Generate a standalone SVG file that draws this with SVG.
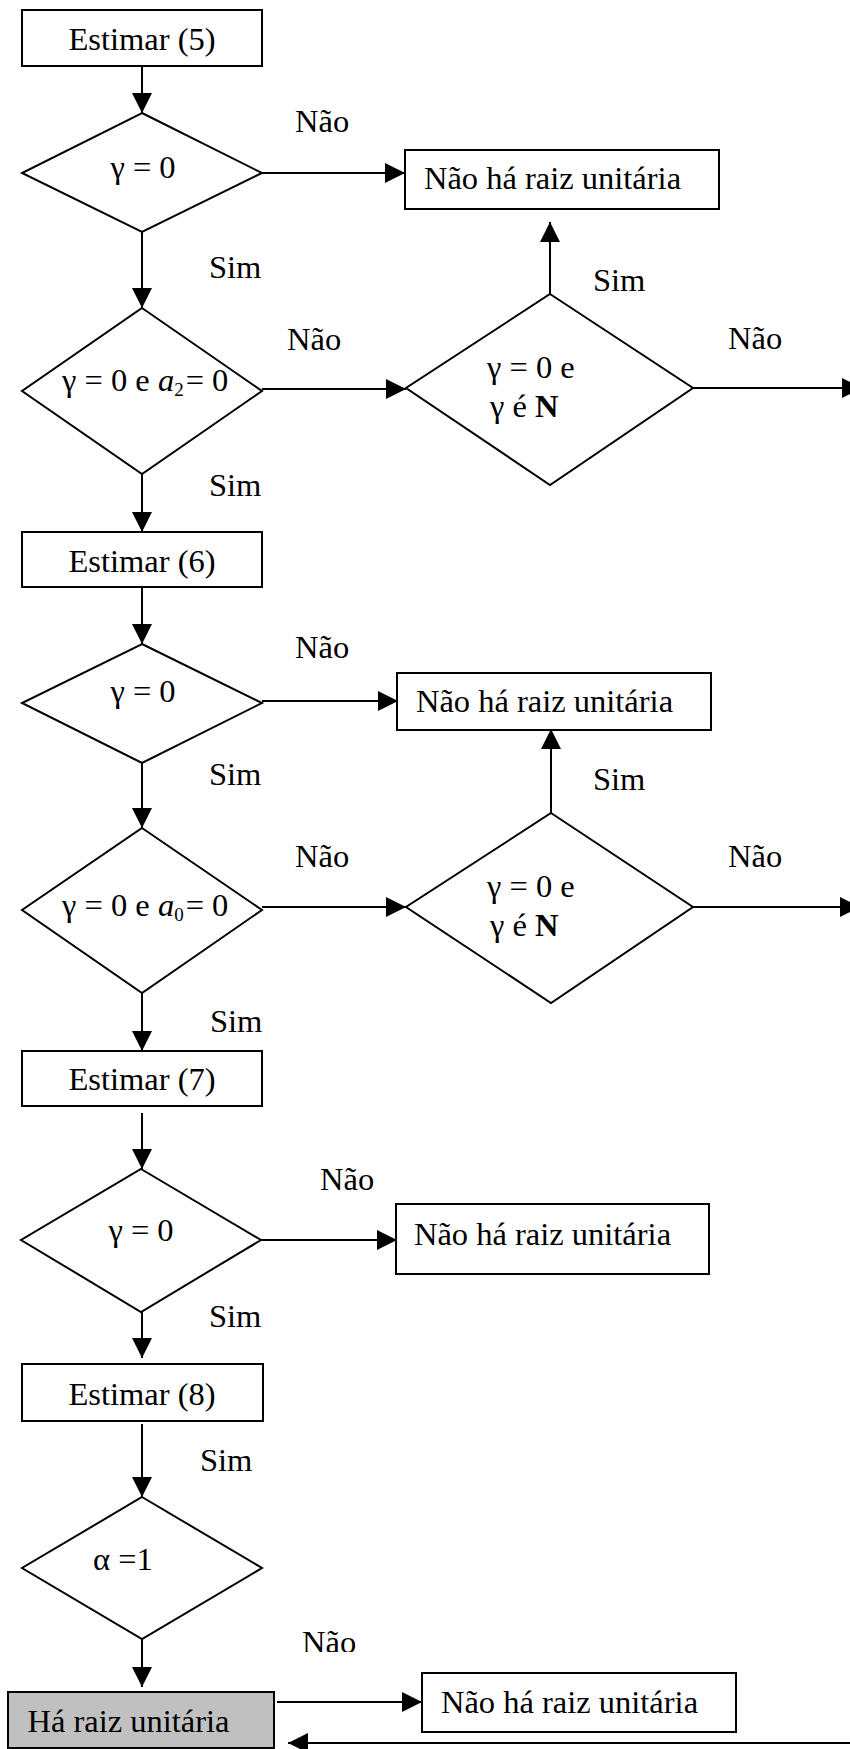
<svg xmlns="http://www.w3.org/2000/svg" width="850" height="1749" viewBox="0 0 850 1749">
<style>
text{font-family:"Liberation Serif","Times New Roman",serif;font-size:32.5px;fill:#000}
.box{fill:#fff;stroke:#000;stroke-width:2}
.gray{fill:#c0c0c0;stroke:#000;stroke-width:2}
.dia{fill:#fff;stroke:#000;stroke-width:2;stroke-linejoin:miter}
.c{fill:none;stroke:#000;stroke-width:2;marker-end:url(#ah)}
.mid{text-anchor:middle}
</style>
<defs>
<marker id="ah" markerUnits="userSpaceOnUse" markerWidth="20" markerHeight="20" refX="20" refY="10" orient="auto" viewBox="0 0 20 20">
<path d="M0,0 L20,10 L0,20 Z" fill="#000"/>
</marker>
<clipPath id="clipNao"><rect x="290" y="1600" width="80" height="52"/></clipPath>
</defs>
<rect width="850" height="1749" fill="#fff"/>

<g id="connectors">
<path class="c" d="M142,66 V113"/>
<path class="c" d="M262,173 H405"/>
<path class="c" d="M142,232 V308"/>
<path class="c" d="M262,389 H406"/>
<path class="c" d="M550,294 V222"/>
<path class="c" d="M693,388 H862"/>
<path class="c" d="M142,474 V532"/>
<path class="c" d="M142,587 V644"/>
<path class="c" d="M262,701 H398"/>
<path class="c" d="M142,763 V828"/>
<path class="c" d="M262,907 H406"/>
<path class="c" d="M551,823 V729"/>
<path class="c" d="M693,907 H860"/>
<path class="c" d="M142,987 V1051"/>
<path class="c" d="M142,1113 V1169"/>
<path class="c" d="M261,1240 H397"/>
<path class="c" d="M142,1312 V1358"/>
<path class="c" d="M142,1424 V1497"/>
<path class="c" d="M142,1639 V1687"/>
<path class="c" d="M277,1702 H422"/>
<path class="c" d="M852,1743 H288"/>
</g>

<g id="estimar5"><rect class="box" x="22" y="10" width="240" height="56"/><text class="mid" x="142" y="50">Estimar (5)</text></g>
<g id="d1"><polygon class="dia" points="142,113 262,173 142,232 22,173"/><text class="mid" x="143" y="178">γ = 0</text></g>
<g id="nao1"><rect class="box" x="405" y="150" width="314" height="59"/><text class="mid" x="552.5" y="189">Não há raiz unitária</text></g>
<g id="d2"><polygon class="dia" points="142,308 262,391 142,474 22,391"/><text x="62" y="391">γ = 0 e <tspan font-style="italic">a</tspan><tspan font-size="19" dy="5">2</tspan><tspan dy="-5" dx="2">= 0</tspan></text></g>
<g id="dr1"><polygon class="dia" points="550,294 693,388 550,485 406,388"/><text x="487" y="378">γ = 0 e</text><text x="490" y="417">γ  é <tspan font-weight="bold">N</tspan></text></g>
<g id="estimar6"><rect class="box" x="22" y="532" width="240" height="55"/><text class="mid" x="142" y="572">Estimar (6)</text></g>
<g id="d4"><polygon class="dia" points="142,644 262,703 142,763 22,703"/><text class="mid" x="143" y="702">γ = 0</text></g>
<g id="nao2"><rect class="box" x="397" y="673" width="314" height="57"/><text class="mid" x="544.5" y="712">Não há raiz unitária</text></g>
<g id="d5"><polygon class="dia" points="142,828 262,910 142,993 22,910"/><text x="62" y="916">γ = 0 e <tspan font-style="italic">a</tspan><tspan font-size="19" dy="5">0</tspan><tspan dy="-5" dx="2">= 0</tspan></text></g>
<g id="dr2"><polygon class="dia" points="551,813 693,907 551,1003 406,907"/><text x="487" y="897">γ = 0 e</text><text x="490" y="936">γ  é <tspan font-weight="bold">N</tspan></text></g>
<g id="estimar7"><rect class="box" x="22" y="1051" width="240" height="55"/><text class="mid" x="142" y="1090">Estimar (7)</text></g>
<g id="d7"><polygon class="dia" points="141,1169 261,1240 141,1312 21,1240"/><text class="mid" x="141" y="1241">γ = 0</text></g>
<g id="nao3"><rect class="box" x="396" y="1204" width="313" height="70"/><text class="mid" x="542.5" y="1245">Não há raiz unitária</text></g>
<g id="estimar8"><rect class="box" x="22" y="1364" width="241" height="57"/><text class="mid" x="142" y="1405">Estimar (8)</text></g>
<g id="d8"><polygon class="dia" points="142,1497 262,1568 142,1639 22,1568"/><text x="93" y="1570">α =1</text></g>
<g id="ha"><rect class="gray" x="8" y="1692" width="266" height="56"/><text class="mid" x="128.5" y="1732">Há raiz unitária</text></g>
<g id="nao4"><rect class="box" x="422" y="1673" width="314" height="59"/><text class="mid" x="569.5" y="1713">Não há raiz unitária</text></g>

<g id="labels">
<text x="295" y="132">Não</text>
<text x="209" y="278">Sim</text>
<text x="593" y="291">Sim</text>
<text x="287" y="350">Não</text>
<text x="728" y="349">Não</text>
<text x="209" y="496">Sim</text>
<text x="295" y="658">Não</text>
<text x="209" y="785">Sim</text>
<text x="593" y="790">Sim</text>
<text x="295" y="867">Não</text>
<text x="728" y="867">Não</text>
<text x="210" y="1032">Sim</text>
<text x="320" y="1190">Não</text>
<text x="209" y="1327">Sim</text>
<text x="200" y="1471">Sim</text>
<text x="302" y="1653" clip-path="url(#clipNao)">Não</text>
</g>
</svg>
